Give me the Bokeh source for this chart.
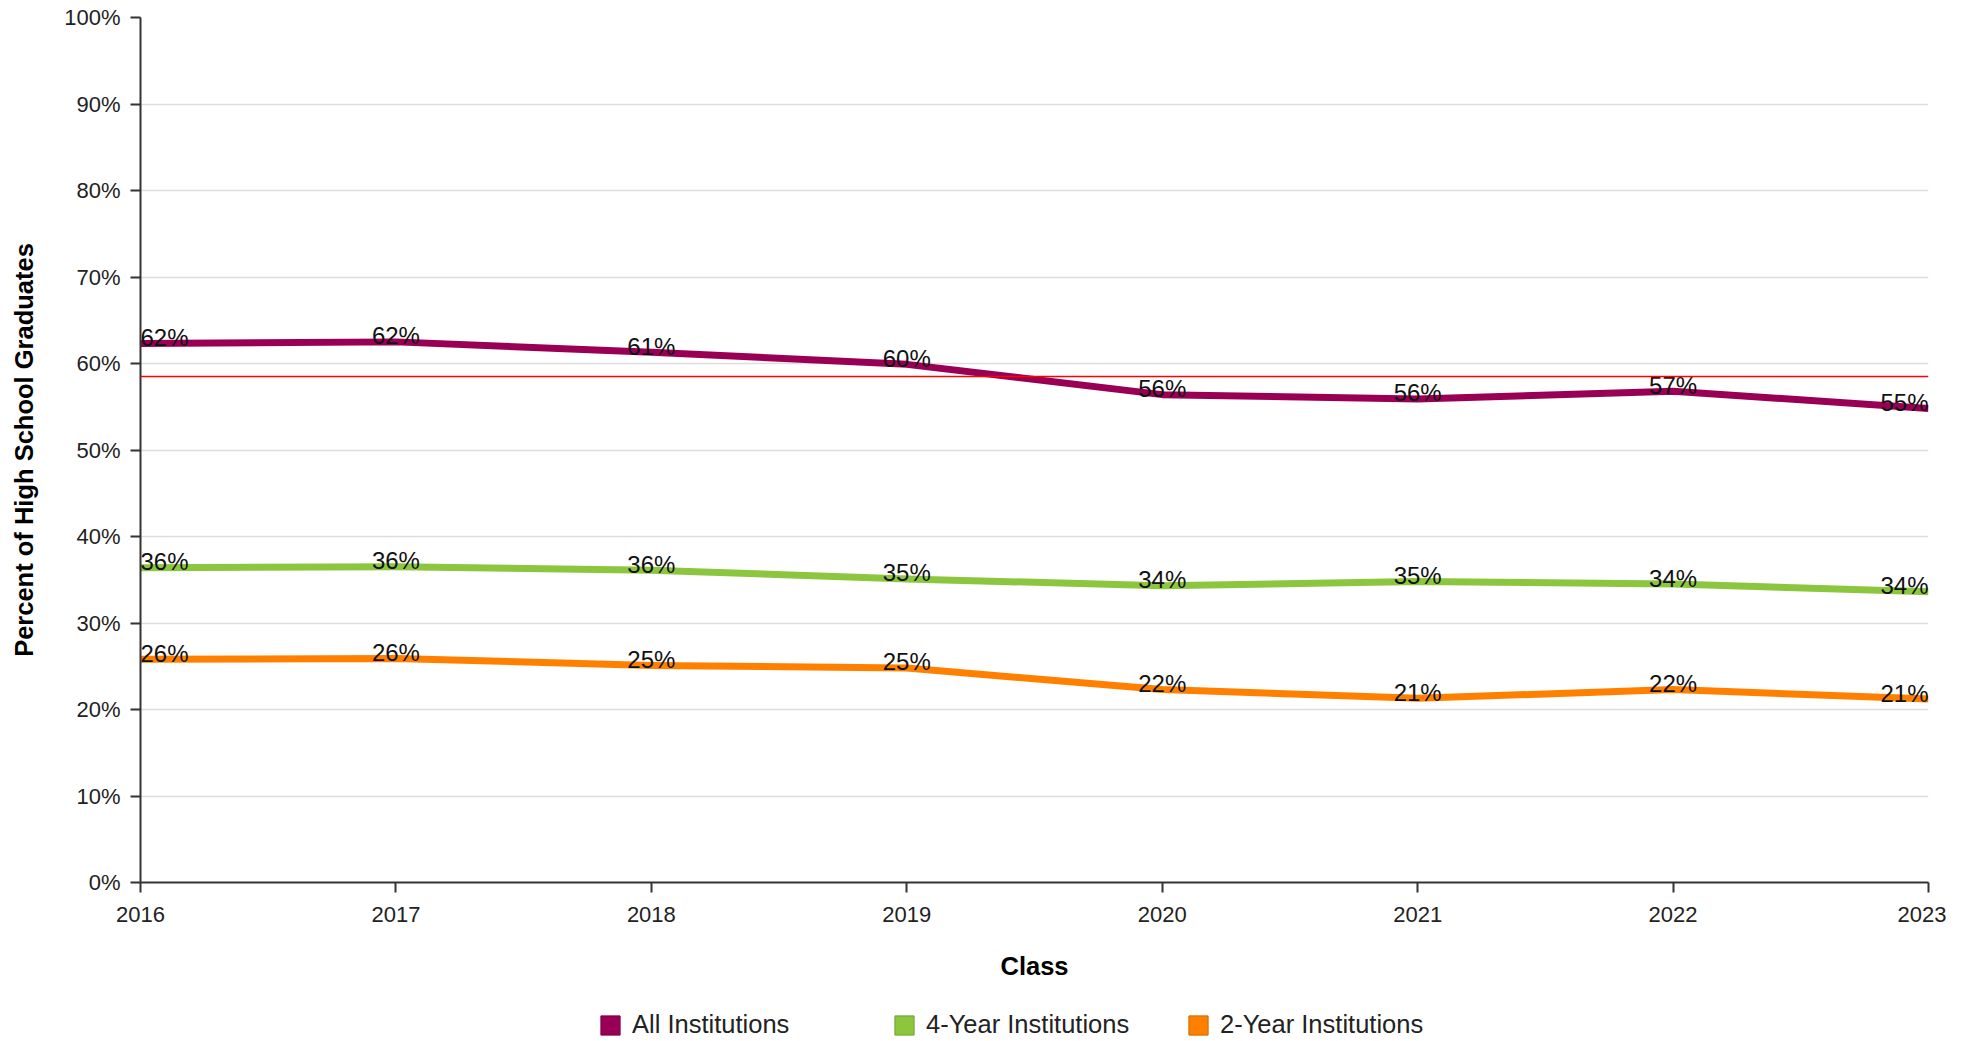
from bokeh.plotting import figure
from bokeh.models import ColumnDataSource, FixedTicker, Span, Legend, LegendItem
from bokeh.layouts import column
from bokeh.core.properties import value
from bokeh.embed import file_html
from bokeh.resources import INLINE

# ---- data ----
years = [2016, 2017, 2018, 2019, 2020, 2021, 2022, 2023]
all_institutions = [62.3, 62.5, 61.3, 59.9, 56.4, 55.9, 56.8, 54.8]
four_year = [36.4, 36.5, 36.1, 35.1, 34.3, 34.8, 34.5, 33.6]
two_year = [25.8, 25.9, 25.1, 24.8, 22.3, 21.3, 22.3, 21.2]
average_all = 58.5
series_names = ["All Institutions", "4-Year Institutions", "2-Year Institutions"]
y_ticks = [0, 10, 20, 30, 40, 50, 60, 70, 80, 90, 100]
y_tick_labels = ["0%", "10%", "20%", "30%", "40%", "50%", "60%", "70%", "80%", "90%", "100%"]
x_tick_labels = ["2016", "2017", "2018", "2019", "2020", "2021", "2022", "2023"]

colors = ["#990055", "#8cc63f", "#ff8000"]
swatch_borders = ["#7a0044", "#70a032", "#cc6600"]
FONT = "Liberation Sans"
series_values = [all_institutions, four_year, two_year]

p = figure(width=1946, height=990, output_backend="svg", toolbar_location=None,
           x_range=(years[0], years[-1]), y_range=(0, 100),
           min_border_left=140, min_border_right=18, min_border_top=17, min_border_bottom=108)
p.outline_line_color = None
p.background_fill_color = "white"
p.border_fill_color = "white"

# grid
p.xgrid.grid_line_color = None
p.ygrid.grid_line_color = "#dddddd"
p.ygrid.grid_line_width = 1.5

# axes
for ax in (p.xaxis[0], p.yaxis[0]):
    ax.axis_line_color = "#333333"
    ax.axis_line_width = 2
    ax.major_tick_line_color = "#333333"
    ax.major_tick_line_width = 2
    ax.major_tick_in = 0
    ax.major_tick_out = 10
    ax.minor_tick_line_color = None
    ax.major_label_text_font = FONT
    ax.major_label_text_font_size = "22px"
    ax.major_label_text_color = "#222222"
    ax.axis_label_text_font = FONT
    ax.axis_label_text_font_size = "25.5px"
    ax.axis_label_text_font_style = "bold"
    ax.axis_label_text_color = "#000000"

p.yaxis.ticker = FixedTicker(ticks=y_ticks)
p.yaxis.major_label_overrides = dict(zip(y_ticks, y_tick_labels))
p.yaxis.major_label_standoff = 10
p.yaxis.axis_label = "Percent of High School Graduates"
p.yaxis.axis_label_standoff = 23

p.xaxis.ticker = FixedTicker(ticks=years)
p.xaxis.major_label_overrides = dict(zip(years, x_tick_labels))
p.xaxis.major_label_standoff = 14
p.xaxis.axis_label = "Class"
p.xaxis.axis_label_standoff = 27

# average line
p.add_layout(Span(location=average_all, dimension="width", line_color="#ff0000", line_width=1.5))

# series lines
n = len(years)
aligns = ["left" if i == 0 else ("right" if i == n - 1 else "center") for i in range(n)]
for vals, col in zip(series_values, colors):
    src = ColumnDataSource(dict(x=years, y=vals))
    p.line("x", "y", source=src, line_color=col, line_width=7, line_join="round")

# data labels
for vals in series_values:
    src = ColumnDataSource(dict(x=years, y=vals,
                                lbl=[f"{round(v):d}%" for v in vals],
                                align=aligns))
    p.text("x", "y", text="lbl", source=src, text_align="align", text_baseline="alphabetic",
           text_font=value(FONT), text_font_size="24px", text_color="#111111", y_offset=-6)

# ---- legend strip (separate figure below the chart) ----
lg = figure(width=1946, height=49, output_backend="svg", toolbar_location=None,
            x_range=(years[0], years[-1]), y_range=(0, 100),
            x_axis_type=None, y_axis_type=None,
            min_border_left=0, min_border_right=0, min_border_top=0, min_border_bottom=0)
lg.outline_line_color = None
lg.xgrid.visible = False
lg.ygrid.visible = False

leg_items = []
for name, vals, col, bcol in zip(series_names, series_values, colors, swatch_borders):
    sq = lg.quad(left=[years[0]], right=[years[0]], top=[vals[0]], bottom=[vals[0]],
                 fill_color=col, line_color=bcol, line_width=1, visible=False)
    leg_items.append(LegendItem(label=name, renderers=[sq]))

legend = Legend(items=leg_items, orientation="horizontal", location=(458, 0),
                border_line_color=None, background_fill_alpha=0, padding=0, margin=0,
                inactive_fill_alpha=0,
                glyph_width=24, glyph_height=24, label_standoff=10, label_width=250, spacing=10,
                label_text_font=FONT, label_text_font_size="25.5px", label_text_color="#222222")
lg.add_layout(legend, "center")

layout = column(p, lg, spacing=0)
open("out.html", "w").write(file_html(layout, INLINE))
